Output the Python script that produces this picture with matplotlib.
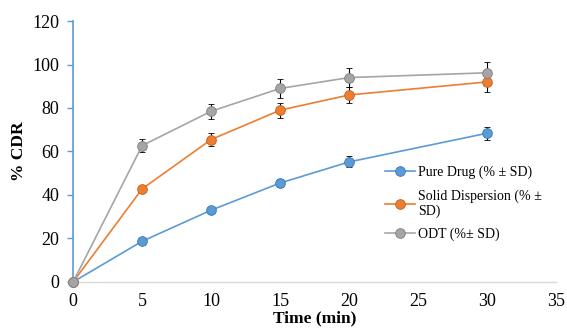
import matplotlib.pyplot as plt

# Dissolution data
time = [0, 5, 10, 15, 20, 30]
pure_drug = [0, 18.7, 33.0, 45.5, 55.2, 68.4]
pure_sd = [0, 1.2, 1.5, 2.0, 2.5, 3.0]
solid_disp = [0, 42.8, 65.5, 79.0, 86.0, 92.0]
solid_sd = [0, 1.5, 3.0, 3.5, 3.5, 4.5]
odt = [0, 62.7, 78.5, 89.0, 94.0, 96.2]
odt_sd = [0, 3.0, 3.5, 4.5, 4.5, 5.0]

labels = ["Pure Drug (% \u00b1 SD)", "Solid Dispersion (% \u00b1\nSD)", "ODT (%\u00b1 SD)"]
colors = ["#5B9BD5", "#ED7D31", "#A5A5A5"]
edges = ["#3A78B0", "#C0611E", "#7F7F7F"]

plt.rcParams["font.family"] = ["Liberation Serif", "DejaVu Serif"]

fig = plt.figure(figsize=(5.67, 3.34), dpi=100)
ax = fig.add_axes([0.129, 0.156, 0.852, 0.781])

series = [(pure_drug, pure_sd), (solid_disp, solid_sd), (odt, odt_sd)]
for (vals, sd), lab, c, ec in zip(series, labels, colors, edges):
    ax.errorbar(time, vals, yerr=sd, color=c, ecolor="black", elinewidth=0.8,
                capsize=2.5, capthick=0.8, lw=1.2, marker="o", ms=7,
                mfc=c, mec=ec, mew=0.6, label=lab, clip_on=False, zorder=3)

ax.set_xlim(0, 35)
ax.set_ylim(0, 120)
ax.set_xticks(range(0, 36, 5))
ax.set_yticks(range(0, 121, 20))

for s in ["top", "right"]:
    ax.spines[s].set_visible(False)
ax.spines["left"].set_color("#5B9BD5")
ax.spines["left"].set_linewidth(1.2)
ax.spines["bottom"].set_color("#D9D9D9")
ax.spines["bottom"].set_linewidth(1.0)
ax.tick_params(axis="y", colors="#5B9BD5", labelcolor="black", direction="out",
               length=4, width=1, labelsize=13, pad=6)
ax.tick_params(axis="x", length=0, labelsize=13, pad=8)

ax.set_xlabel("Time (min)", fontweight="bold", fontsize=12.5, labelpad=0)
ax.set_ylabel("% CDR", fontweight="bold", fontsize=12.5, labelpad=4)

h, l = ax.get_legend_handles_labels()
h = [x[0] for x in h]
ax.legend(h, l, loc="upper left", bbox_to_anchor=(0.645, 0.445), frameon=False,
          fontsize=10, handlelength=2.2, handletextpad=0.2, labelspacing=0.7,
          borderpad=0, borderaxespad=0)

plt.savefig("out.png", dpi=100)
